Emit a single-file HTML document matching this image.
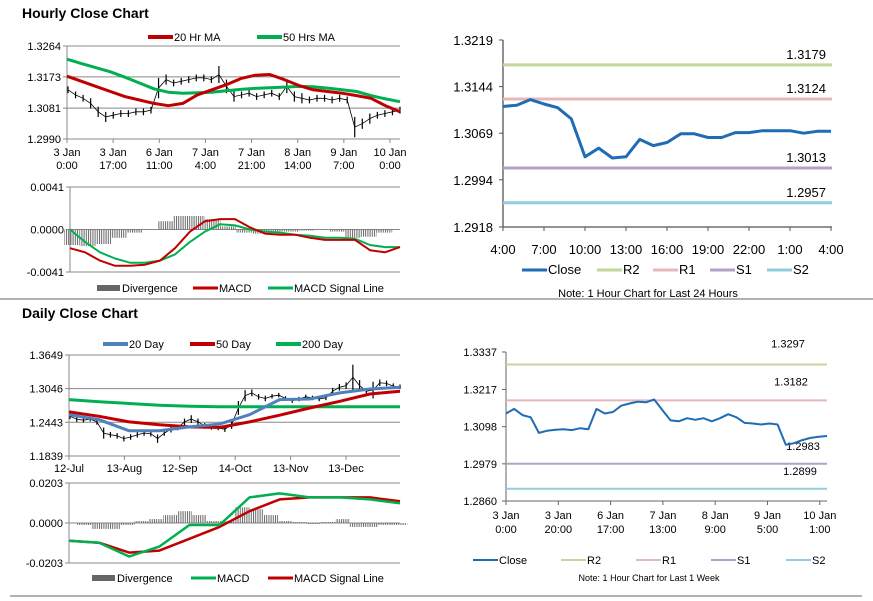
<!DOCTYPE html>
<html><head><meta charset="utf-8"><style>
body{margin:0;background:#fff}
svg{display:block;font-family:"Liberation Sans",Arial,sans-serif}
</style></head><body>
<svg id="c" width="873" height="601" viewBox="0 0 873 601" xmlns="http://www.w3.org/2000/svg">
<defs>
<pattern id="hatch" width="2.2" height="4" patternUnits="userSpaceOnUse"><rect x="0" y="0" width="1" height="4" fill="#666"/></pattern>
</defs>
<line x1="0" y1="299" x2="873" y2="299" stroke="#999" stroke-width="1.5"/>
<line x1="10" y1="596" x2="862" y2="596" stroke="#999" stroke-width="1.5"/>
<text x="22" y="18" font-size="14" font-weight="bold">Hourly Close Chart</text>
<text x="22" y="318" font-size="14" font-weight="bold">Daily Close Chart</text>
<g id="g"></g>
</svg>
<script>
// ---------- Hourly price (top-left) ----------
const hTicks=[1.3264,1.3173,1.3081,1.2990];
const hXLabels=[["3 Jan","0:00"],["3 Jan","17:00"],["6 Jan","11:00"],["7 Jan","4:00"],["7 Jan","21:00"],["8 Jan","14:00"],["9 Jan","7:00"],["10 Jan","0:00"]];
const hClose=[1.3135,1.312,1.311,1.3095,1.307,1.3055,1.306,1.3065,1.3065,1.307,1.307,1.3075,1.314,1.3165,1.3155,1.316,1.3165,1.317,1.317,1.3165,1.318,1.3145,1.3115,1.312,1.3125,1.3115,1.312,1.3125,1.3115,1.3145,1.3115,1.311,1.3105,1.311,1.311,1.3105,1.311,1.3105,1.3025,1.3035,1.305,1.306,1.3065,1.307,1.3075];
const hRange=[0.002,0.002,0.002,0.003,0.003,0.003,0.002,0.002,0.002,0.002,0.002,0.002,0.006,0.003,0.002,0.002,0.002,0.002,0.002,0.002,0.005,0.004,0.003,0.002,0.002,0.002,0.002,0.002,0.002,0.004,0.003,0.003,0.002,0.002,0.002,0.002,0.002,0.002,0.006,0.003,0.003,0.002,0.002,0.002,0.002];
const hMA20=[1.3175,1.316,1.3145,1.313,1.3115,1.3105,1.3095,1.3088,1.3095,1.312,1.3135,1.315,1.3168,1.3178,1.318,1.3165,1.3148,1.3135,1.313,1.3125,1.3118,1.311,1.3088,1.307];
const hMA50=[1.3225,1.3212,1.3200,1.3188,1.3172,1.3155,1.3138,1.3128,1.3125,1.3126,1.3128,1.3132,1.3136,1.3139,1.3141,1.3143,1.3145,1.3144,1.3140,1.3135,1.3130,1.3118,1.3108,1.3100];
// ---------- Hourly MACD ----------
const hmTicks=[0.0041,0.0,-0.0041];
const hMacd=[-0.0018,-0.0022,-0.003,-0.0035,-0.0035,-0.0034,-0.003,-0.0018,-0.0002,0.0008,0.0010,0.0010,0.0002,-0.0004,-0.0005,-0.0005,-0.0008,-0.0010,-0.0010,-0.0010,-0.0020,-0.0022,-0.0017];
const hSignal=[0.0,-0.0012,-0.0022,-0.0028,-0.0032,-0.0032,-0.003,-0.0024,-0.0012,-0.0002,0.0005,0.0004,0.0,-0.0002,-0.0003,-0.0005,-0.0006,-0.0008,-0.0008,-0.0009,-0.0015,-0.0017,-0.0017];
const hDiv=[-0.0015,-0.0016,-0.0014,-0.0008,-0.0003,0,0.0008,0.0013,0.0013,0.0010,0.0003,-0.0003,-0.0004,-0.0002,-0.0002,-0.0001,0,-0.0002,-0.0008,-0.0007,-0.0003,0];
// ---------- 24h chart (top-right) ----------
const rTicks=[1.3219,1.3144,1.3069,1.2994,1.2918];
const rXLabels=["4:00","7:00","10:00","13:00","16:00","19:00","22:00","1:00","4:00"];
const rClose=[1.3112,1.3114,1.3123,1.3116,1.3110,1.3092,1.3031,1.3045,1.3029,1.3031,1.3059,1.3049,1.3054,1.3068,1.3068,1.3062,1.3062,1.3070,1.3070,1.3073,1.3073,1.3073,1.3069,1.3072,1.3072];
const rLevels=[1.3179,1.3124,1.3013,1.2957];
// ---------- Daily price (bottom-left) ----------
const dTicks=[1.3649,1.3046,1.2443,1.1839];
const dXLabels=["12-Jul","13-Aug","12-Sep","14-Oct","13-Nov","13-Dec"];
const dClose=[1.255,1.250,1.248,1.250,1.245,1.225,1.222,1.220,1.215,1.218,1.222,1.225,1.224,1.215,1.225,1.232,1.235,1.245,1.250,1.245,1.238,1.235,1.234,1.232,1.240,1.270,1.292,1.297,1.290,1.287,1.291,1.293,1.287,1.283,1.286,1.290,1.288,1.286,1.288,1.300,1.307,1.310,1.325,1.310,1.300,1.302,1.315,1.314,1.309,1.308];
const dRange=[0.01,0.01,0.008,0.008,0.01,0.02,0.01,0.01,0.01,0.01,0.01,0.01,0.01,0.015,0.01,0.012,0.01,0.012,0.014,0.012,0.01,0.008,0.008,0.01,0.015,0.025,0.02,0.012,0.01,0.01,0.008,0.008,0.008,0.008,0.008,0.008,0.008,0.008,0.008,0.012,0.012,0.012,0.045,0.02,0.012,0.03,0.012,0.01,0.01,0.008];
const d20=[1.258,1.249,1.229,1.229,1.236,1.241,1.258,1.285,1.286,1.297,1.304,1.307];
const d50=[1.263,1.255,1.245,1.240,1.236,1.235,1.245,1.257,1.270,1.282,1.295,1.300];
const d200=[1.285,1.281,1.278,1.275,1.273,1.272,1.272,1.272,1.272,1.272,1.272,1.272];
// ---------- Daily MACD ----------
const dmTicks=[0.0203,0.0,-0.0203];
const dMacd=[-0.009,-0.010,-0.017,-0.012,-0.001,-0.001,0.013,0.015,0.013,0.013,0.012,0.010];
const dSignal=[-0.009,-0.010,-0.015,-0.014,-0.008,-0.002,0.006,0.012,0.013,0.013,0.013,0.011];
const dDiv=[0,-0.001,-0.003,-0.003,-0.001,0.001,0.002,0.004,0.006,0.004,0.001,0.001,0.008,0.007,0.004,0.001,0.0005,-0.0005,0.0005,0.002,-0.002,-0.002,-0.001,-0.001];
// ---------- Weekly chart (bottom-right) ----------
const wTicks=[1.3337,1.3217,1.3098,1.2979,1.2860];
const wXLabels=[["3 Jan","0:00"],["3 Jan","20:00"],["6 Jan","17:00"],["7 Jan","13:00"],["8 Jan","9:00"],["9 Jan","5:00"],["10 Jan","1:00"]];
const wClose=[1.3140,1.3155,1.3135,1.3128,1.3078,1.3085,1.3088,1.3090,1.3087,1.3093,1.3090,1.3155,1.3140,1.3145,1.3165,1.3172,1.3178,1.3176,1.3185,1.3151,1.3118,1.3115,1.3125,1.3120,1.3125,1.3115,1.3125,1.3138,1.3128,1.3110,1.3108,1.3105,1.3108,1.3105,1.3040,1.3045,1.3055,1.3062,1.3066,1.3068];
const wLevels=[1.3297,1.3182,1.2979,1.2899];
const wLevelText=["1.3297","1.3182","1.2983","1.2899"];

const NS="http://www.w3.org/2000/svg";
const G=document.getElementById('g');
function el(t,a,p){const e=document.createElementNS(NS,t);for(const k in a)e.setAttribute(k,a[k]);(p||G).appendChild(e);return e;}
function lin(d0,d1,r0,r1){return v=>r0+(v-d0)/(d1-d0)*(r1-r0);}
function idx(n,x0,x1){return i=>x0+i*(x1-x0)/(n-1);}
function line(arr,xf,yf,color,w,name){
  const e=el('polyline',{points:arr.map((v,i)=>xf(i).toFixed(1)+','+yf(v).toFixed(1)).join(' '),fill:'none',stroke:color,'stroke-width':w,'stroke-linejoin':'round'});
  
  
}
function txt(x,y,s,size,anchor,name,fill){
  const e=el('text',{x:x,y:y,'font-size':size,'text-anchor':anchor||'start',fill:fill||'#000'});e.textContent=s;
  
  
  return e;
}
function yAxis(ticks,yf,x0,x1,grid,name){
  const a=el('line',{x1:x0,y1:yf(ticks[0]),x2:x0,y2:yf(ticks[ticks.length-1]),stroke:'#888'});
  
  
  ticks.forEach(t=>{
    if(grid){const g=el('line',{x1:x0,y1:yf(t),x2:x1,y2:yf(t),stroke:'#888'});
      
      }
    el('line',{x1:x0-4,y1:yf(t),x2:x0,y2:yf(t),stroke:'#888'});
    txt(x0-6,yf(t)+4,t.toFixed(4),11,'end',name+'-y-tick-label');
  });
}
function bars(close,range,xf,yf,name){
  const p=el('polyline',{points:close.map((v,i)=>xf(i).toFixed(1)+','+yf(v).toFixed(1)).join(' '),fill:'none',stroke:'#000','stroke-width':0.8});
  
  
  close.forEach((v,i)=>{
    const r=range[i];
    const b=el('line',{x1:xf(i),x2:xf(i),y1:yf(v+r/2),y2:yf(v-r/2),stroke:'#000','stroke-width':1.2});
    
    
  });
}
function hist(arr,xf,yf,w,name){
  arr.forEach((v,i)=>{
    const y0=yf(0),y1=yf(v);
    const r=el('rect',{x:xf(i)-w/2,y:Math.min(y0,y1),width:w,height:Math.abs(y1-y0),fill:'url(#hatch)'});
    
    
  });
}
function legLine(x,y,color,label,w,name,size){
  const l=el('line',{x1:x,y1:y,x2:x+25,y2:y,stroke:color,'stroke-width':w||3});
  
  
  txt(x+26,y+4,label,size||11,'start',name+'-label');
}
function legBox(x,y,label,name){
  const b=el('rect',{x:x,y:y-3,width:23,height:6,fill:'#666'});
  
  
  txt(x+25,y+4,label,11,'start',name+'-label');
}

// Hourly price
{
 const yf=lin(1.3264,1.2990,46,139);
 yAxis(hTicks,yf,67,400,true,'hourly');
 hXLabels.forEach((l,i)=>{const x=67+i*(390-67)/7;el('line',{x1:x,y1:139,x2:x,y2:143,stroke:'#888'});txt(x,156,l[0],11,'middle','hourly-x-label');txt(x,169,l[1],11,'middle','hourly-x-label');});
 bars(hClose,hRange,idx(hClose.length,68,400),yf,'hourly-bar');
 line(hMA50,idx(hMA50.length,67,400),yf,'#00b050',3,'hourly-ma50-line');
 line(hMA20,idx(hMA20.length,67,400),yf,'#c00000',3,'hourly-ma20-line');
 legLine(148,37,'#c00000','20 Hr MA',4,'legend-20hr-ma');
 legLine(257,37,'#00b050','50 Hrs MA',4,'legend-50hrs-ma');
}
// Hourly MACD
{
 const yf=lin(0.0041,-0.0041,187,272);
 yAxis(hmTicks,yf,70,400,false,'hourly-macd');
 el('line',{x1:70,y1:yf(0),x2:400,y2:yf(0),stroke:'#888'});
 el('line',{x1:70,y1:187,x2:400,y2:187,stroke:'#888'});
 el('line',{x1:70,y1:272,x2:400,y2:272,stroke:'#888'});
 hist(hDiv,idx(hDiv.length,72,400),yf,15.6,'hourly-divergence-bar');
 line(hSignal,idx(hSignal.length,70,400),yf,'#00b050',2,'hourly-signal-line');
 line(hMacd,idx(hMacd.length,70,400),yf,'#c00000',2,'hourly-macd-line');
 legBox(97,288,'Divergence','legend-hourly-divergence');
 legLine(193,288,'#c00000','MACD',3,'legend-hourly-macd');
 legLine(268,288,'#00b050','MACD Signal Line',3,'legend-hourly-signal');
}
// 24h chart
{
 const yf=lin(1.3219,1.2918,40,227);
 el('line',{x1:503,y1:40,x2:503,y2:227,stroke:'#555','stroke-width':1.3});
 rTicks.forEach(t=>{el('line',{x1:499,y1:yf(t),x2:503,y2:yf(t),stroke:'#555'});txt(493,yf(t)+5,t.toFixed(4),13,'end','h24-y-tick-label');});
 el('line',{x1:503,y1:227,x2:832,y2:227,stroke:'#555','stroke-width':1.3});
 rXLabels.forEach((l,i)=>{const x=503+i*41;el('line',{x1:x,y1:227,x2:x,y2:231,stroke:'#555'});txt(x,254,l,13,'middle','h24-x-label');});
 const cols=['#c3d69b','#e6b9b8','#b3a2c7','#93cddd'];
 const nm=['r2','r1','s1','s2'];
 rLevels.forEach((v,i)=>{line([v,v],idx(2,503,832),yf,cols[i],3,'h24-'+nm[i]+'-line');txt(826,yf(v)-6,v.toFixed(4),13,'end','h24-'+nm[i]+'-value');});
 line(rClose,idx(rClose.length,503,831),yf,'#1f6cb5',3,'h24-close-line');
 legLine(522,270,'#1f6cb5','Close',3,'legend-h24-close',13);
 legLine(597,270,'#c3d69b','R2',3,'legend-h24-r2',13);
 legLine(653,270,'#e6b9b8','R1',3,'legend-h24-r1',13);
 legLine(710,270,'#b3a2c7','S1',3,'legend-h24-s1',13);
 legLine(767,270,'#93cddd','S2',3,'legend-h24-s2',13);
 txt(648,297,'Note: 1 Hour Chart for Last 24 Hours',11,'middle','h24-note');
}
// Daily price
{
 const yf=lin(1.3649,1.1839,355,456);
 yAxis(dTicks,yf,69,400,true,'daily');
 dXLabels.forEach((l,i)=>{const x=69+i*55.4;el('line',{x1:x,y1:456,x2:x,y2:460,stroke:'#888'});txt(x,472,l,11,'middle','daily-x-label');});
 bars(dClose,dRange,idx(dClose.length,70,400),yf,'daily-bar');
 line(d200,idx(d200.length,69,400),yf,'#00b050',3,'daily-200-line');
 line(d50,idx(d50.length,69,400),yf,'#c00000',3,'daily-50-line');
 line(d20,idx(d20.length,69,400),yf,'#4f81bd',3,'daily-20-line');
 legLine(103,344,'#4f81bd','20 Day',4,'legend-20-day');
 legLine(190,344,'#c00000','50 Day',4,'legend-50-day');
 legLine(276,344,'#00b050','200 Day',4,'legend-200-day');
}
// Daily MACD
{
 const yf=lin(0.0203,-0.0203,483,563);
 yAxis(dmTicks,yf,69,400,false,'daily-macd');
 el('line',{x1:69,y1:483,x2:400,y2:483,stroke:'#888'});
 el('line',{x1:69,y1:yf(0),x2:400,y2:yf(0),stroke:'#888'});
 el('line',{x1:69,y1:563,x2:400,y2:563,stroke:'#888'});
 hist(dDiv,idx(dDiv.length,70,400),yf,14.4,'daily-divergence-bar');
 line(dSignal,idx(dSignal.length,69,400),yf,'#c00000',2.5,'daily-signal-line');
 line(dMacd,idx(dMacd.length,69,400),yf,'#00b050',2.5,'daily-macd-line');
 legBox(92,578,'Divergence','legend-daily-divergence');
 legLine(191,578,'#00b050','MACD',3,'legend-daily-macd');
 legLine(268,578,'#c00000','MACD Signal Line',3,'legend-daily-signal');
}
// Weekly chart
{
 const yf=lin(1.3337,1.2860,352,501);
 el('line',{x1:506,y1:352,x2:506,y2:501,stroke:'#666'});
 wTicks.forEach(t=>{el('line',{x1:502,y1:yf(t),x2:506,y2:yf(t),stroke:'#666'});txt(497,yf(t)+4,t.toFixed(4),11,'end','week-y-tick-label');});
 el('line',{x1:506,y1:501,x2:827,y2:501,stroke:'#666'});
 wXLabels.forEach((l,i)=>{const x=506+i*52.3;el('line',{x1:x,y1:501,x2:x,y2:505,stroke:'#666'});txt(x,519,l[0],11,'middle','week-x-label');txt(x,533,l[1],11,'middle','week-x-label');});
 const cols=['#c3d69b','#e6b9b8','#b3a2c7','#93cddd'];
 const nm=['r2','r1','s1','s2'];
 const lx=[788,791,803,800];
 const ly=[-17,-15,-14,-14];
 wLevels.forEach((v,i)=>{line([v,v],idx(2,506,827),yf,cols[i],2,'week-'+nm[i]+'-line');txt(lx[i],yf(v)+ly[i],wLevelText[i],11,'middle','week-'+nm[i]+'-value');});
 line(wClose,idx(wClose.length,506,827),yf,'#1f6cb5',2,'week-close-line');
 legLine(473,560,'#1f6cb5','Close',2,'legend-week-close');
 legLine(561,560,'#c3d69b','R2',2,'legend-week-r2');
 legLine(636,560,'#e6b9b8','R1',2,'legend-week-r1');
 legLine(711,560,'#b3a2c7','S1',2,'legend-week-s1');
 legLine(786,560,'#93cddd','S2',2,'legend-week-s2');
 txt(649,581,'Note: 1 Hour Chart for Last 1 Week',9,'middle','week-note');
}
</script>
</body></html>
